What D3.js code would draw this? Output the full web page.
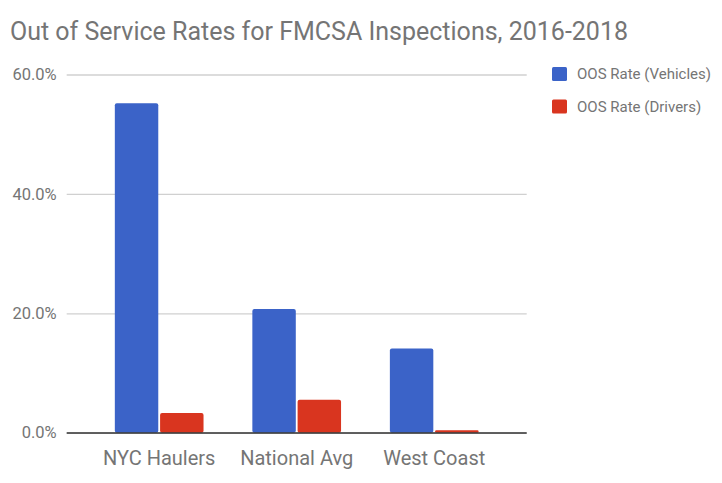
<!DOCTYPE html>
<html>
<head>
<meta charset="utf-8">
<script src="https://cdn.jsdelivr.net/npm/d3@7"></script>
<style>
  body { margin: 0; background: #fff; }
  svg { display: block; font-family: Roboto, "Noto Sans", sans-serif; }
</style>
</head>
<body>
<svg id="chart" width="722" height="483"></svg>
<script>
// chart data
var categories = ["NYC Haulers", "National Avg", "West Coast"];
var seriesNames = ["OOS Rate (Vehicles)", "OOS Rate (Drivers)"];
var vehicles = [55.2, 20.7, 14.1];
var drivers = [3.3, 5.5, 0.4];
var yTicks = [0, 20, 40, 60];

var colors = ["#3b63c8", "#d9351f"];

var svg = d3.select("#chart");
var plotLeft = 66.7, plotRight = 526.7, plotTop = 74.5, plotBottom = 432.7;

// title
svg.append("text")
  .attr("x", 10)
  .attr("y", 40)
  .attr("fill", "#757575")
  .style("font-size", "25px")
  .text("Out of Service Rates for FMCSA Inspections, 2016-2018");

var y = d3.scaleLinear().domain([0, 60]).range([plotBottom, plotTop]);
var x0 = d3.scaleBand().domain(categories).range([plotLeft, plotRight])
  .paddingInner(0.355).paddingOuter(0.35);
var x1 = d3.scaleBand().domain(seriesNames).range([0, x0.bandwidth()])
  .paddingInner(0.04);

// gridlines + y labels
var yAxis = svg.append("g")
  .attr("transform", "translate(" + plotLeft + ",0)")
  .call(d3.axisLeft(y).tickValues(yTicks)
    .tickFormat(function(d) { return d3.format(".1f")(d) + "%"; })
    .tickSize(-(plotRight - plotLeft)).tickPadding(10));
yAxis.select(".domain").remove();
yAxis.selectAll(".tick line").attr("stroke", "#d0d0d0").attr("stroke-width", 1.3);
yAxis.selectAll(".tick text")
  .attr("fill", "#757575")
  .style("font-size", "16.5px")
  .style("font-family", "Roboto, sans-serif");

// bars
var rows = categories.map(function(c, i) {
  return {cat: c, values: [vehicles[i], drivers[i]]};
});

var groups = svg.append("g").selectAll("g")
  .data(rows)
  .enter().append("g")
  .attr("transform", function(d) { return "translate(" + x0(d.cat) + ",0)"; });

groups.selectAll("rect")
  .data(function(d) {
    return d.values.map(function(v, i) { return {name: seriesNames[i], value: v, idx: i}; });
  })
  .enter().append("rect")
  .attr("x", function(d) { return x1(d.name); })
  .attr("y", function(d) { return y(d.value); })
  .attr("width", x1.bandwidth())
  .attr("height", function(d) { return plotBottom - y(d.value); })
  .attr("rx", function(d) { return Math.min(2, (plotBottom - y(d.value)) / 2); })
  .attr("fill", function(d) { return colors[d.idx]; });

// baseline
svg.append("line")
  .attr("x1", plotLeft).attr("x2", plotRight)
  .attr("y1", y(0) + 0.3).attr("y2", y(0) + 0.3)
  .attr("stroke", "#333").attr("stroke-width", 1.3);

// x labels
var xAxis = svg.append("g")
  .attr("transform", "translate(0," + plotBottom + ")")
  .call(d3.axisBottom(x0).tickSize(0).tickPadding(18));
xAxis.select(".domain").remove();
xAxis.selectAll(".tick text")
  .attr("fill", "#757575")
  .style("font-size", "20px")
  .style("font-family", "Roboto, sans-serif");

// legend
var legend = svg.append("g").selectAll("g")
  .data(seriesNames)
  .enter().append("g")
  .attr("transform", function(d, i) { return "translate(552," + (67 + i * 32.5) + ")"; });

legend.append("rect")
  .attr("width", 15).attr("height", 14).attr("rx", 1.5)
  .attr("fill", function(d, i) { return colors[i]; });

legend.append("text")
  .attr("x", 25)
  .attr("y", 7)
  .attr("dy", "0.35em")
  .attr("fill", "#757575")
  .style("font-size", "15px")
  .text(function(d) { return d; });
</script>
</body>
</html>
